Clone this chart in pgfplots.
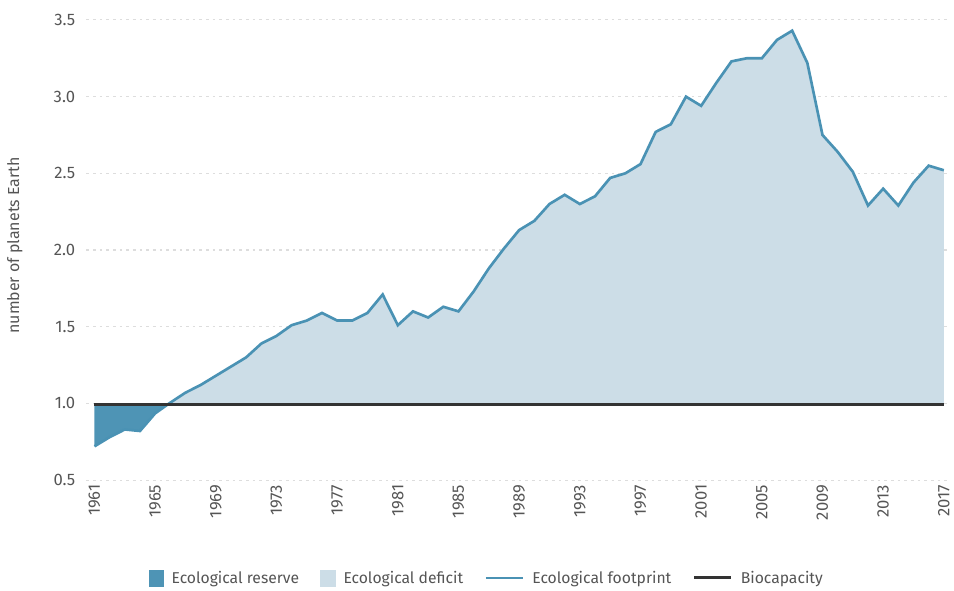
\documentclass[border=0pt]{standalone}
\usepackage{fontspec}
\setmainfont{Fira Sans}
\usepackage{pgfplots}
\pgfplotsset{compat=1.18}
\usepgfplotslibrary{fillbetween}
\usepackage{pgfplotstable}

\definecolor{reserve}{HTML}{4E94B5}
\definecolor{deficit}{HTML}{CCDDE7}
\definecolor{footline}{HTML}{4A92B4}
\definecolor{biocap}{HTML}{333333}
\definecolor{ticktxt}{HTML}{555555}
\definecolor{gridc}{HTML}{DDDDDD}

\pgfplotstableread{
year fp
1961 0.72
1962 0.78
1963 0.83
1964 0.82
1965 0.935
1966 1.005
1967 1.07
1968 1.12
1969 1.18
1970 1.24
1971 1.30
1972 1.39
1973 1.44
1974 1.51
1975 1.54
1976 1.59
1977 1.54
1978 1.54
1979 1.59
1980 1.71
1981 1.51
1982 1.60
1983 1.56
1984 1.63
1985 1.60
1986 1.73
1987 1.88
1988 2.01
1989 2.13
1990 2.19
1991 2.30
1992 2.36
1993 2.30
1994 2.35
1995 2.47
1996 2.50
1997 2.56
1998 2.77
1999 2.82
2000 3.00
2001 2.94
2002 3.09
2003 3.23
2004 3.25
2005 3.25
2006 3.37
2007 3.43
2008 3.22
2009 2.75
2010 2.64
2011 2.51
2012 2.29
2013 2.40
2014 2.29
2015 2.44
2016 2.55
2017 2.52
}\footprint

\pgfplotstableread{
year bc
1961 0.99
2017 0.99
}\biocapacity

\begin{document}
\begin{tikzpicture}
\begin{axis}[
    at={(0pt,0pt)}, anchor=south west,
    scale only axis,
    width=647pt, height=346pt,
    xmin=1960.47, xmax=2017.2,
    ymin=0.5, ymax=3.5,
    axis line style={draw=none},
    xtick={1961,1965,...,2017},
    ytick={0.5,1.0,...,3.5},
    xticklabel style={rotate=90, anchor=east, font=\fontsize{12.5}{13}\selectfont, text=ticktxt},
    yticklabel style={font=\fontsize{12.5}{13}\selectfont, text=ticktxt, xshift=-5pt},
    x tick label style={/pgf/number format/1000 sep={}},
    y tick label style={/pgf/number format/.cd, fixed, fixed zerofill, precision=1},
    /pgf/number format/assume math mode=true,
    major tick length=0pt,
    ymajorgrids,
    grid style={gridc, dash pattern=on 2pt off 3pt, line width=0.8pt},
    ylabel={number of planets Earth},
    ylabel style={at={(axis description cs:-0.0831,0.51)}, anchor=center,
        font=\fontsize{12}{13}\selectfont, text=ticktxt},
    xtick pos=bottom, ytick pos=left,
    legend style={
        at={(axis description cs:0.4655,-0.214)}, anchor=center, draw=none, legend columns=-1,
        font=\fontsize{11.8}{14}\selectfont, text=ticktxt,
        /tikz/every odd column/.append style={column sep=4pt},
        /tikz/every even column/.append style={column sep=14pt}},
    legend cell align=left,
]
\addplot[name path=A, draw=none, forget plot] table[x=year, y=fp] {\footprint};
\addplot[name path=B, draw=none, forget plot] table[x=year, y=bc] {\biocapacity};
\addplot[forget plot] fill between[of=A and B, split,
    every segment no 0/.style={fill=reserve},
    every segment no 1/.style={fill=deficit}];

\addplot[footline, line width=2pt, forget plot] table[x=year, y=fp] {\footprint};
\addplot[biocap, line width=2.2pt, forget plot] table[x=year, y=bc] {\biocapacity};

\addlegendimage{legend image code/.code={\fill[reserve] (0pt,-5.5pt) rectangle (11pt,6pt);}}
\addlegendentry{Ecological reserve}
\addlegendimage{legend image code/.code={\fill[deficit] (0pt,-5.5pt) rectangle (11pt,6pt);}}
\addlegendentry{Ecological deficit}
\addlegendimage{legend image code/.code={\draw[footline, line width=2pt] (0pt,0.5pt) -- (28pt,0.5pt);}}
\addlegendentry{Ecological footprint}
\addlegendimage{legend image code/.code={\draw[biocap, line width=2.2pt] (0pt,0.5pt) -- (28pt,0.5pt);}}
\addlegendentry{Biocapacity}
\end{axis}
% page frame: 954x592 px at 0.75pt per px, axis box at the origin
\path (-65pt,-83.25pt) rectangle (650.5pt,361pt);
\end{tikzpicture}
\end{document}
